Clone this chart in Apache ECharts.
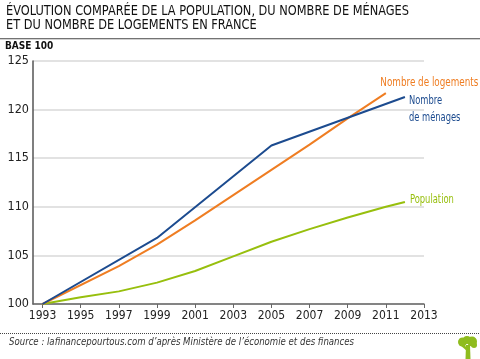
<!DOCTYPE html>
<html><head><meta charset="utf-8">
<script src="https://cdn.jsdelivr.net/npm/echarts@6/dist/echarts.min.js"></script>
<style>html,body{margin:0;padding:0;background:#fff}#c{width:480px;height:359px}</style>
</head><body><div id="c"></div>
<script>
const FONT = '"DejaVu Sans Condensed","Liberation Sans Narrow",sans-serif';
const titleLines = ['ÉVOLUTION COMPARÉE DE LA POPULATION, DU NOMBRE DE MÉNAGES', 'ET DU NOMBRE DE LOGEMENTS EN FRANCE'];
const yAxisName = 'BASE 100';
const sourceText = 'Source : lafinancepourtous.com d\u2019après Ministère de l\u2019économie et des finances';
const xTicks = [1993, 1995, 1997, 1999, 2001, 2003, 2005, 2007, 2009, 2011, 2013];
const menagesYears = [1993, 1999, 2005, 2012];
const menagesValues = [100, 106.8, 116.3, 121.3];
const logementsYears = [1993, 1997, 1999, 2001, 2003, 2005, 2007, 2009, 2011];
const logementsValues = [100, 103.9, 106.1, 108.6, 111.2, 113.8, 116.4, 119.1, 121.7];
const popYears = [1993, 1995, 1997, 1999, 2001, 2003, 2005, 2007, 2009, 2011, 2012];
const popValues = [100, 100.7, 101.3, 102.2, 103.4, 104.9, 106.4, 107.7, 108.9, 110.0, 110.5];
const seriesNames = ['Population', 'Nombre de logements', 'Nombre de ménages'];
const zip = (a, b) => a.map((x, i) => [x, b[i]]);

const COL = {pop: '#97bf0d', log: '#ef7d22', men: '#1c4b8f'};
const mctx = document.createElement('canvas').getContext('2d');
function fitScale(text, font, target) {
  mctx.font = font;
  const w = Math.max(...text.split('\n').map(t => mctx.measureText(t).width));
  return target / w;
}

const chart = echarts.init(document.getElementById('c'), null, {renderer: 'canvas'});
chart.setOption({
  animation: false,
  backgroundColor: '#fff',
  grid: {left: 33, right: 56, top: 61, bottom: 55, containLabel: false},
  xAxis: {
    type: 'value', min: 1992.5, max: 2013,
    axisLine: {show: true, lineStyle: {color: '#666', width: 1.5}},
    axisTick: {show: true, length: 4, customValues: xTicks, lineStyle: {color: '#666'}},
    axisLabel: {customValues: xTicks, color: '#222', fontFamily: FONT, fontSize: 12, margin: 6,
      formatter: v => String(v)},
    splitLine: {show: false}
  },
  yAxis: {
    type: 'value', min: 100, max: 125, interval: 5,
    axisLine: {show: true, lineStyle: {color: '#555', width: 1.5}},
    axisTick: {show: false},
    axisLabel: {color: '#222', fontFamily: FONT, fontSize: 12.5, margin: 4},
    splitLine: {show: true, lineStyle: {color: '#d8d8d8', width: 1.5}}
  },
  series: [
    {type: 'line', name: seriesNames[0], data: zip(popYears, popValues), showSymbol: false,
      lineStyle: {color: COL.pop, width: 2}, itemStyle: {color: COL.pop}},
    {type: 'line', name: seriesNames[1], data: zip(logementsYears, logementsValues), showSymbol: false,
      lineStyle: {color: COL.log, width: 2}, itemStyle: {color: COL.log}},
    {type: 'line', name: seriesNames[2], data: zip(menagesYears, menagesValues), showSymbol: false,
      lineStyle: {color: COL.men, width: 2}, itemStyle: {color: COL.men}}
  ]
});

const titleFont = '14px ' + FONT;
const srcFont = 'italic 10px ' + FONT;
const lblFont = '13px ' + FONT;
const last = (a) => a[a.length - 1];
const pLog = chart.convertToPixel({gridIndex: 0}, [last(logementsYears), last(logementsValues)]);
const pMen = chart.convertToPixel({gridIndex: 0}, [last(menagesYears), last(menagesValues)]);
const pPop = chart.convertToPixel({gridIndex: 0}, [last(popYears), last(popValues)]);

function label(text, x, y, color, width) {
  return {type: 'text', x: x, y: y, scaleX: fitScale(text, lblFont, width),
    style: {text: text, font: lblFont, fill: color, textVerticalAlign: 'middle', lineHeight: 17}};
}
const TREE = '#8fbc1e';

chart.setOption({
  graphic: [
    {type: 'text', x: 6, y: 4, scaleX: fitScale(titleLines[0], titleFont, 403),
      style: {text: titleLines.join('\n'), font: titleFont, fill: '#111', lineHeight: 14.5}},
    {type: 'rect', shape: {x: 0, y: 38.2, width: 480, height: 1}, style: {fill: '#444'}},
    {type: 'text', x: 5, y: 41, style: {text: yAxisName, font: 'bold 10px ' + FONT, fill: '#111'}},
    {type: 'line', shape: {x1: 0, y1: 333.5, x2: 480, y2: 333.5}, style: {stroke: '#444', lineWidth: 1, lineDash: [1, 1]}},
    {type: 'text', x: 9, y: 337, scaleX: fitScale(sourceText, srcFont, 345),
      style: {text: sourceText, font: srcFont, fill: '#333'}},
    label(seriesNames[1], pLog[0] - 5.5, pLog[1] - 10, COL.log, 98),
    label('Nombre\nde ménages', pMen[0] + 4, pMen[1] + 11.7, COL.men, 51.5),
    label(seriesNames[0], pPop[0] + 5, pPop[1] - 2, COL.pop, 44),
    {type: 'group', x: 458, y: 336, children: [
      {type: 'polygon', shape: {points: [[8, 9], [12, 9], [12.5, 23], [7.5, 23]]}, style: {fill: TREE}},
      {type: 'polygon', shape: {points: [[9, 15], [2, 9], [3.5, 7.5], [10, 12]]}, style: {fill: TREE}},
      {type: 'circle', shape: {cx: 4.5, cy: 6, r: 4.5}, style: {fill: TREE}},
      {type: 'circle', shape: {cx: 14, cy: 5.5, r: 5}, style: {fill: TREE}},
      {type: 'circle', shape: {cx: 9, cy: 4, r: 4}, style: {fill: TREE}},
      {type: 'circle', shape: {cx: 16, cy: 9, r: 3}, style: {fill: TREE}}
    ]}
  ]
});
</script></body></html>
